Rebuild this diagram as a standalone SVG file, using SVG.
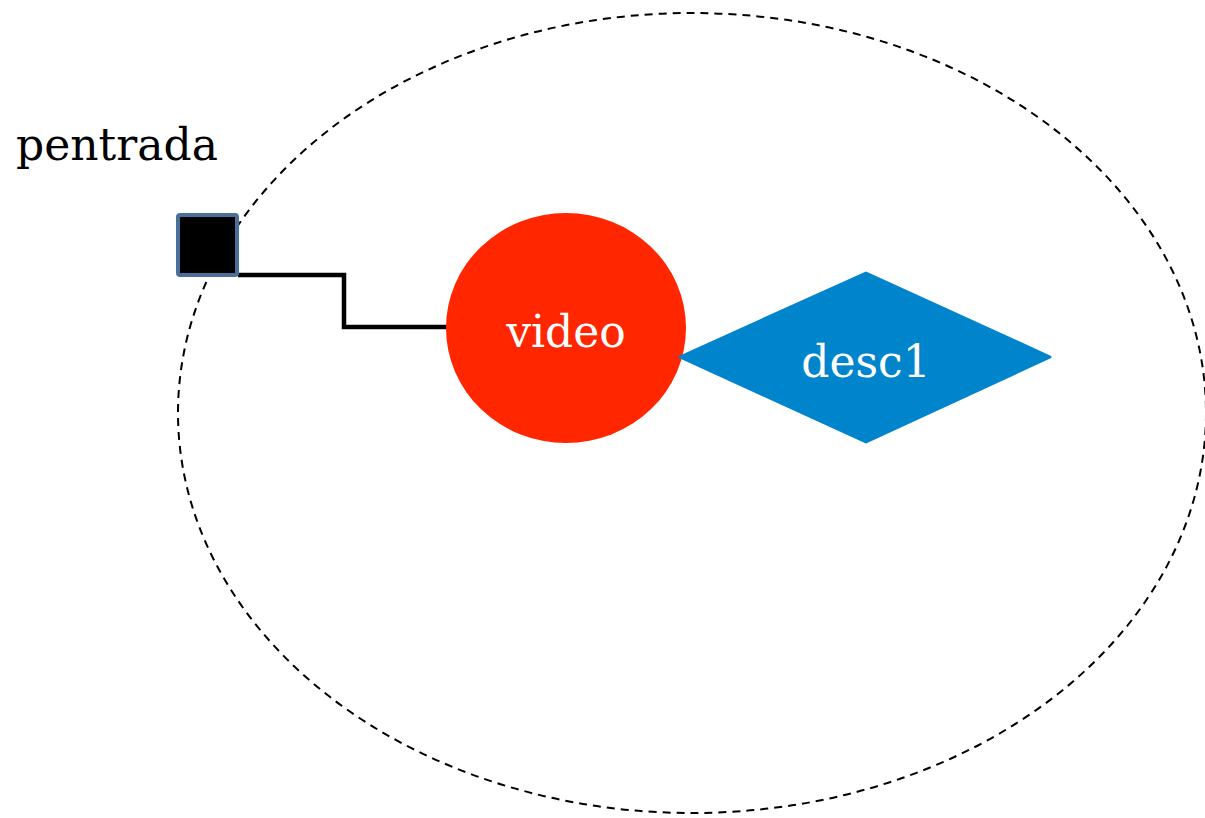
<svg xmlns="http://www.w3.org/2000/svg" width="1205" height="818" viewBox="0 0 1205 818">
<style>
.lbl{font-family:"DejaVu Serif","Liberation Serif",serif;font-size:44px}
.w{fill:#ffffff;text-anchor:middle}
</style>
<rect width="1205" height="818" fill="#ffffff"/>
<g id="boundary">
<ellipse cx="692" cy="413" rx="514" ry="400" fill="none" stroke="#000" stroke-width="2" stroke-dasharray="8,6"/>
</g>
<g id="connectors">
<polyline points="238,275 344,275 344,327 448,327" fill="none" stroke="#000" stroke-width="4.5"/>
</g>
<g id="pentrada">
<rect x="178" y="215" width="59" height="60" fill="#000" stroke="#4a6f98" stroke-width="4" rx="2"/>
<text class="lbl" x="16" y="160">pentrada</text>
</g>
<g id="video">
<ellipse cx="566" cy="328" rx="120" ry="115" fill="#ff2600"/>
<text class="lbl w" x="566" y="347">video</text>
</g>
<g id="desc1">
<polygon points="680,357 866,273 1050,357 866,442" fill="#0085cc" stroke="#0085cc" stroke-width="3" stroke-linejoin="round"/>
<text class="lbl w" x="866" y="377">desc1</text>
</g>
</svg>
